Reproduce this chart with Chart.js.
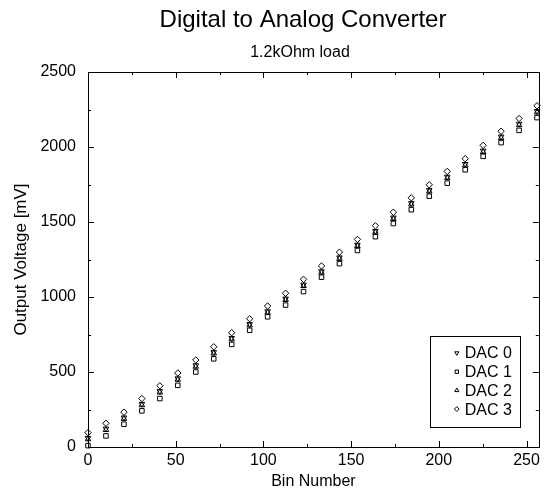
<!DOCTYPE html>
<html lang="en">
<head>
    <meta charset="UTF-8">
    <title>Digital to Analog Converter</title>
    <script src="https://cdn.jsdelivr.net/npm/chart.js"></script>
    <style>
        html, body { margin: 0; padding: 0; background: #fff; }
        .chart-container { position: relative; width: 544px; height: 493px; }
    </style>
</head>
<body>
    <div class="chart-container">
        <canvas id="dacChart"></canvas>
    </div>

    <script>
        // Bin numbers sampled along the x axis
        const bins = [0, 10.24, 20.48, 30.72, 40.96, 51.2, 61.44, 71.68, 81.92, 92.16, 102.4, 112.64, 122.88,
                      133.12, 143.36, 153.6, 163.84, 174.08, 184.32, 194.56, 204.8, 215.04, 225.28, 235.52, 245.76, 256];

        // Output voltage [mV] per DAC
        const dac0 = [60, 122, 196, 287, 372, 457, 544, 632, 726, 819, 904, 989, 1082, 1171, 1263, 1348, 1439, 1529, 1625, 1712, 1801, 1886, 1975, 2069, 2154, 2239];
        const dac1 = [9, 74, 152, 241, 323, 411, 500, 588, 684, 778, 868, 946, 1036, 1132, 1222, 1310, 1402, 1490, 1582, 1672, 1759, 1848, 1938, 2029, 2111, 2196];
        const dac2 = [52, 114, 188, 279, 364, 449, 536, 624, 718, 811, 896, 981, 1074, 1163, 1255, 1340, 1431, 1521, 1617, 1704, 1793, 1878, 1967, 2061, 2146, 2231];
        const dac3 = [96, 158, 232, 323, 408, 493, 580, 668, 762, 855, 940, 1025, 1118, 1207, 1299, 1384, 1475, 1565, 1661, 1748, 1837, 1922, 2011, 2105, 2190, 2275];

        const xTicks = [0, 50, 100, 150, 200, 250];
        const yTicks = [0, 500, 1000, 1500, 2000, 2500];

        const FONT = "'Liberation Sans', Arial, sans-serif";
        const TITLE = 'Digital to Analog Converter';
        const SUBTITLE = '1.2kOhm load';

        function series(label, values, style, rotation) {
            return {
                label: label,
                data: bins.map((x, i) => ({ x: x, y: values[i] })),
                pointStyle: style,
                rotation: rotation,
                pointRadius: 3.2,
                borderColor: '#000',
                backgroundColor: 'rgba(0,0,0,0)',
                borderWidth: 1,
                showLine: false,
                clip: false
            };
        }

        // title + subtitle, a bit right of the canvas centre like the original
        const headings = {
            id: 'headings',
            afterDraw(chart) {
                const { ctx } = chart;
                ctx.save();
                ctx.fillStyle = '#000';
                ctx.textAlign = 'center';
                ctx.textBaseline = 'middle';
                ctx.font = '24px ' + FONT;
                ctx.fillText(TITLE, 303, 20);
                ctx.font = '16px ' + FONT;
                ctx.fillText(SUBTITLE, 300, 53);
                ctx.restore();
            }
        };

        // frame with inward ticks on all four sides (major + minor)
        const frameTicks = {
            id: 'frameTicks',
            afterDatasetsDraw(chart) {
                const { ctx, chartArea: a, scales } = chart;
                const xs = scales.x, ys = scales.y;
                ctx.save();
                ctx.strokeStyle = '#000';
                ctx.lineWidth = 1;
                ctx.strokeRect(Math.round(a.left) + 0.5, Math.round(a.top) + 0.5,
                               Math.round(a.right - a.left), Math.round(a.bottom - a.top));
                ctx.beginPath();
                for (let v = 0; v <= xs.max; v += 25) {
                    const px = Math.round(xs.getPixelForValue(v)) + 0.5;
                    const len = v % 50 === 0 ? 6 : 3;
                    ctx.moveTo(px, a.bottom); ctx.lineTo(px, a.bottom - len);
                    ctx.moveTo(px, a.top); ctx.lineTo(px, a.top + len);
                }
                for (let v = 0; v <= ys.max; v += 250) {
                    const py = Math.round(ys.getPixelForValue(v)) + 0.5;
                    const len = v % 500 === 0 ? 6 : 3;
                    ctx.moveTo(a.left, py); ctx.lineTo(a.left + len, py);
                    ctx.moveTo(a.right, py); ctx.lineTo(a.right - len, py);
                }
                ctx.stroke();
                ctx.restore();
            }
        };

        // boxed legend in lower right of the plot
        const boxLegend = {
            id: 'boxLegend',
            afterDraw(chart) {
                const { ctx, chartArea: a } = chart;
                const right = a.right - 19, bottom = a.bottom - 20;
                const w = 90, h = 91;
                const left = right - w, top = bottom - h;
                ctx.save();
                ctx.fillStyle = '#fff';
                ctx.fillRect(left, top, w, h);
                ctx.strokeStyle = '#000';
                ctx.lineWidth = 1;
                ctx.strokeRect(Math.round(left) + 0.5, Math.round(top) + 0.5, w, h);
                ctx.font = '16px ' + FONT;
                ctx.textBaseline = 'middle';
                ctx.textAlign = 'left';
                chart.data.datasets.forEach((ds, i) => {
                    const y = top + 17 + i * 18.7;
                    ctx.fillStyle = '#fff';
                    ctx.strokeStyle = '#000';
                    Chart.helpers.drawPoint(ctx, {
                        pointStyle: ds.pointStyle,
                        rotation: ds.rotation || 0,
                        radius: 2.4,
                        borderWidth: 1
                    }, left + 27, y);
                    ctx.fillStyle = '#000';
                    ctx.fillText(ds.label, left + 35, y + 1);
                });
                ctx.restore();
            }
        };

        const ctx = document.getElementById('dacChart').getContext('2d');
        new Chart(ctx, {
            type: 'scatter',
            data: {
                datasets: [
                    series('DAC 0', dac0, 'triangle', 180),
                    series('DAC 1', dac1, 'rect', 0),
                    series('DAC 2', dac2, 'triangle', 0),
                    series('DAC 3', dac3, 'rectRot', 0)
                ]
            },
            options: {
                responsive: true,
                maintainAspectRatio: false,
                animation: false,
                layout: { padding: { left: 0, right: 0, top: 72, bottom: 0 } },
                scales: {
                    x: {
                        type: 'linear',
                        min: 0,
                        max: 257,
                        afterBuildTicks: (s) => { s.ticks = xTicks.map(v => ({ value: v })); },
                        grid: { display: false, drawTicks: false },
                        border: { display: false },
                        ticks: { color: '#000', font: { family: FONT, size: 16 }, padding: 4, maxRotation: 0 },
                        title: { display: true, text: 'Bin Number', color: '#000', font: { family: FONT, size: 16 }, padding: { top: 2, bottom: 1.5 } },
                        afterFit: (s) => { s.height = 46; }
                    },
                    y: {
                        type: 'linear',
                        min: 0,
                        max: 2500,
                        afterBuildTicks: (s) => { s.ticks = yTicks.map(v => ({ value: v })); },
                        grid: { display: false, drawTicks: false },
                        border: { display: false },
                        ticks: { color: '#000', font: { family: FONT, size: 16 }, padding: 12, callback: (v) => String(v) },
                        title: { display: true, text: 'Output Voltage [mV]', color: '#000', font: { family: FONT, size: 17 }, padding: { top: 11.5, bottom: 4 } },
                        afterFit: (s) => { s.width = 88; }
                    }
                },
                plugins: {
                    legend: { display: false },
                    tooltip: { enabled: false },
                    title: { display: false },
                    subtitle: { display: false }
                }
            },
            plugins: [headings, frameTicks, boxLegend]
        });
    </script>
</body>
</html>
